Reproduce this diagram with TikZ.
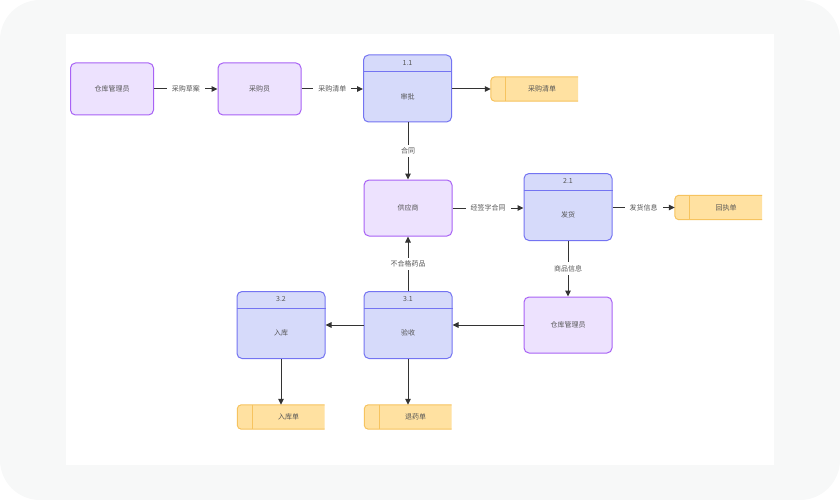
\documentclass[tikz,border=0pt]{standalone}
\usepackage{fontspec}
\setmainfont{Noto Sans CJK SC}
\usetikzlibrary{arrows.meta}
\definecolor{bgout}{HTML}{F7F8F8}
\definecolor{pfill}{HTML}{EDE2FE}
\definecolor{pdraw}{HTML}{A862F5}
\definecolor{bfill}{HTML}{D6DAFA}
\definecolor{bdraw}{HTML}{7474F2}
\definecolor{sfill}{HTML}{FFE1A1}
\definecolor{sdraw}{HTML}{F6C35F}
\definecolor{txt}{HTML}{555555}
\definecolor{edge}{HTML}{333333}
\tikzset{
  ent/.style={rectangle, rounded corners=5pt, draw=pdraw, fill=pfill, line width=1pt,
    minimum width=83pt, minimum height=52pt, inner sep=0pt, font=\fontsize{7}{8}\selectfont, text=txt},
  proc/.style={rectangle, rounded corners=5pt, draw=bdraw, fill=bfill, line width=1pt,
    minimum width=88pt, minimum height=67pt, inner sep=0pt},
  ptxt/.style={font=\fontsize{7}{8}\selectfont, text=txt, inner sep=0pt},
  store/.style={rectangle, minimum width=87pt, minimum height=24pt, inner sep=0pt},
  flow/.style={draw=edge, line width=1pt, -{Triangle[length=6pt,width=5.5pt]}},
  lab/.style={fill=white, font=\fontsize{7}{8}\selectfont, text=txt, inner xsep=5pt, inner ysep=3pt},
}
\newcommand{\mystore}[3]{%
  \node[store] (#1) at (#2) {};
  \fill[sfill] ([xshift=4pt]#1.north west) -- (#1.north east) -- (#1.south east) -- ([xshift=4pt]#1.south west)
    arc[start angle=270,end angle=180,radius=4pt] -- ([yshift=-4pt]#1.north west) arc[start angle=180,end angle=90,radius=4pt] -- cycle;
  \draw[sdraw, line width=1pt] (#1.north east) -- ([xshift=4pt]#1.north west)
    arc[start angle=90,end angle=180,radius=4pt] -- ([yshift=4pt]#1.south west)
    arc[start angle=180,end angle=270,radius=4pt] -- (#1.south east);
  \draw[sdraw, line width=1pt] ([xshift=15pt]#1.north west) -- ([xshift=15pt]#1.south west);
  \node[ptxt] (#1t) at ([xshift=7.5pt]#1.center) {#3};
}
\newcommand{\myproc}[4]{%
  \node[proc] (#1) at (#2) {};
  \draw[bdraw, line width=1pt] ([yshift=-17pt]#1.north west) -- ([yshift=-17pt]#1.north east);
  \node[ptxt] (#1n) at ([yshift=-8.5pt]#1.north) {#3};
  \node[ptxt] (#1t) at ([yshift=-8pt]#1.center) {#4};
}
\begin{document}
\begin{tikzpicture}[x=1pt,y=-1pt]
\useasboundingbox (0,0) rectangle (840,500);
\fill[bgout, rounded corners=40pt] (0,0) rectangle (840,500);
\fill[white] (66,34) rectangle (774,465);

\node[ent] (e1) at (112,89) {仓库管理员};
\node[ent] (e2) at (259.5,89) {采购员};
\myproc{p11}{407.5,88.5}{1.1}{审批}
\mystore{s1}{534.5,89}{采购清单}

\node[ent, minimum width=88pt, minimum height=56pt] (e3) at (408,208) {供应商};
\myproc{p21}{568,207}{2.1}{发货}
\mystore{s2}{718.5,207.5}{回执单}

\node[ent, minimum width=88pt, minimum height=56pt] (e4) at (568,325) {仓库管理员};
\myproc{p31}{408,325}{3.1}{验收}
\myproc{p32}{281,325}{3.2}{入库}

\mystore{s3}{281,417}{入库单}
\mystore{s4}{408,417}{退药单}

\draw[flow] (e1) -- node[lab] {采购草案} (e2);
\draw[flow] (e2) -- node[lab] {采购清单} (e2 -| p11.west);
\draw[flow] (p11.east |- s1) -- (s1.west);
\draw[flow] (p11.south -| e3) -- node[lab] {合同} (e3.north);
\draw[flow] (e3.east) -- node[lab] {经签字合同} (e3 -| p21.west);
\draw[flow] (p21.east |- s2) -- node[lab] {发货信息} (s2.west);
\draw[flow] (p21.south) -- node[lab] {商品信息} (e4.north);
\draw[flow] (e4.west) -- (p31.east);
\draw[flow] (p31.north) -- node[lab] {不合格药品} (e3.south);
\draw[flow] (p31.west) -- (p32.east);
\draw[flow] (p32.south) -- (s3.north);
\draw[flow] (p31.south) -- (s4.north);
\end{tikzpicture}
\end{document}
